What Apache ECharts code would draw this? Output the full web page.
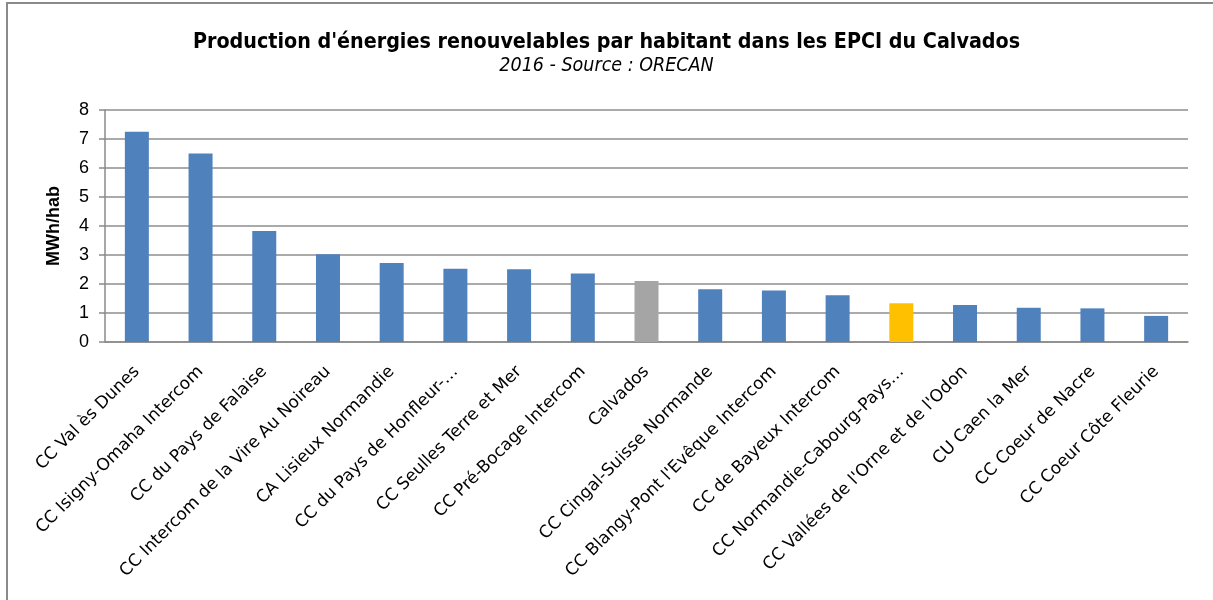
<!DOCTYPE html>
<html>
<head>
<meta charset="utf-8">
<script src="https://cdn.jsdelivr.net/npm/echarts@6/dist/echarts.min.js"></script>
<style>
  html, body { margin: 0; padding: 0; background: #fff; }
  #chart { width: 1213px; height: 600px; }
</style>
</head>
<body>
<div id="chart"></div>
<script>
// EPCI du Calvados, 2016
var categories = [
    'CC Val ès Dunes',
    'CC Isigny-Omaha Intercom',
    'CC du Pays de Falaise',
    'CC Intercom de la Vire Au Noireau',
    'CA Lisieux Normandie',
    'CC du Pays de Honfleur-…',
    'CC Seulles Terre et Mer',
    'CC Pré-Bocage Intercom',
    'Calvados',
    'CC Cingal-Suisse Normande',
    "CC Blangy-Pont l'Evêque Intercom",
    'CC de Bayeux Intercom',
    'CC Normandie-Cabourg-Pays…',
    "CC Vallées de l'Orne et de l'Odon",
    'CU Caen la Mer',
    'CC Coeur de Nacre',
    'CC Coeur Côte Fleurie'
];
// MWh par habitant
var values = [7.25, 6.5, 3.83, 3.03, 2.72, 2.53, 2.51, 2.36, 2.1, 1.82, 1.78, 1.61, 1.34, 1.28, 1.18, 1.16, 0.9];
var yTicks = [0, 1, 2, 3, 4, 5, 6, 7, 8];

var departement = 'Calvados';
var highlighted = 'CC Normandie-Cabourg-Pays…';

var chart = echarts.init(document.getElementById('chart'));

chart.setOption({
    animation: false,
    backgroundColor: '#fff',
    // cadre du graphique (bords gauche et haut visibles)
    graphic: [{
        type: 'polyline',
        shape: { points: [[7, 620], [7, 3], [1300, 3]] },
        style: { fill: null, stroke: '#8a8a8a', lineWidth: 2 },
        silent: true
    }],
    title: {
        text: "Production d'énergies renouvelables par habitant dans les EPCI du Calvados",
        subtext: '2016 - Source : ORECAN',
        left: 'center',
        top: 27,
        itemGap: 3,
        textStyle: {
            fontFamily: 'DejaVu Sans Condensed, Liberation Sans',
            fontSize: 21.3,
            fontWeight: 'bold',
            color: '#000'
        },
        subtextStyle: {
            fontFamily: 'DejaVu Sans Condensed, Liberation Sans',
            fontSize: 19.5,
            fontStyle: 'italic',
            color: '#000'
        }
    },
    grid: {
        left: 105,
        right: 25,
        top: 110,
        bottom: 258
    },
    xAxis: {
        type: 'category',
        data: categories,
        axisLine: { lineStyle: { color: '#8a8a8a', width: 1.5 } },
        axisTick: { length: 6, lineStyle: { color: '#8a8a8a', width: 1.5 } },
        axisLabel: {
            rotate: 45,
            interval: 0,
            margin: 27,
            fontFamily: 'DejaVu Sans',
            fontSize: 17,
            color: '#000'
        }
    },
    yAxis: {
        type: 'value',
        min: yTicks[0],
        max: yTicks[yTicks.length - 1],
        interval: 1,
        name: 'MWh/hab',
        nameLocation: 'middle',
        nameGap: 42,
        nameRotate: 90,
        nameTextStyle: {
            fontFamily: 'Liberation Sans',
            fontSize: 18,
            fontWeight: 'bold',
            color: '#000'
        },
        axisLine: { show: true, lineStyle: { color: '#8a8a8a', width: 1.5 } },
        axisTick: { show: true, length: 6, lineStyle: { color: '#8a8a8a', width: 1.5 } },
        axisLabel: {
            margin: 16,
            fontFamily: 'Liberation Sans',
            fontSize: 18,
            color: '#000'
        },
        splitLine: { lineStyle: { color: '#8e8e8e', width: 1.5 } }
    },
    series: [{
        type: 'bar',
        data: values,
        barWidth: 24,
        itemStyle: {
            color: function (p) {
                if (p.name === departement) return '#A5A5A5';
                if (p.name === highlighted) return '#FFC000';
                return '#4F81BD';
            }
        }
    }]
});
</script>
</body>
</html>
